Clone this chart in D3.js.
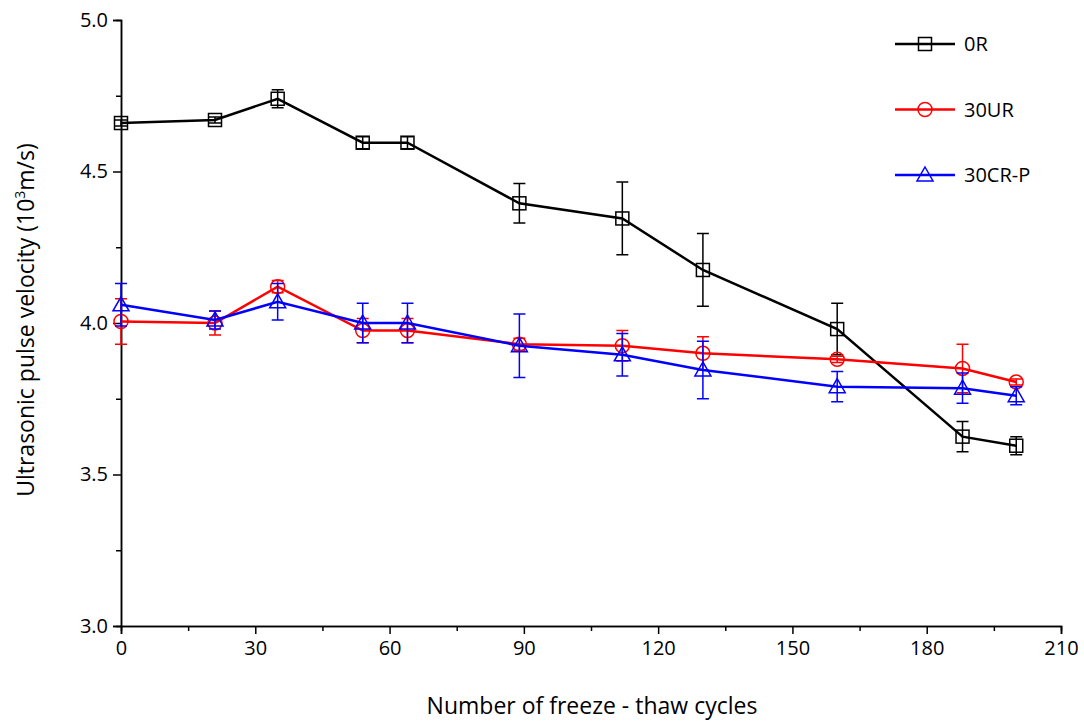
<!DOCTYPE html>
<html><head><meta charset="utf-8">
<script src="https://cdn.jsdelivr.net/npm/d3@7"></script>
<style>body{margin:0;background:#fff}text{font-family:"Open Sans",Arial,sans-serif}</style>
</head><body><div></div>
<script>
var cycles = [0, 21, 35, 54, 64, 89, 112, 130, 160, 188, 200];
var v0R = [4.66, 4.67, 4.74, 4.595, 4.595, 4.395, 4.345, 4.175, 3.98, 3.625, 3.595];
var e0R = [0.01, 0.01, 0.03, 0.02, 0.02, 0.065, 0.12, 0.12, 0.085, 0.05, 0.03];
var v30UR = [4.005, 4.0, 4.12, 3.975, 3.975, 3.93, 3.925, 3.9, 3.88, 3.85, 3.805];
var e30UR = [0.075, 0.04, 0.02, 0.04, 0.04, 0.02, 0.05, 0.055, 0.01, 0.08, 0.01];
var v30CR = [4.06, 4.01, 4.07, 4.0, 4.0, 3.925, 3.895, 3.845, 3.79, 3.785, 3.76];
var e30CR = [0.07, 0.03, 0.06, 0.065, 0.065, 0.105, 0.07, 0.095, 0.05, 0.05, 0.03];
var seriesNames = ['0R', '30UR', '30CR-P'];
var xTicks = [0, 30, 60, 90, 120, 150, 180, 210];
var yTicks = [3.0, 3.5, 4.0, 4.5, 5.0];

var width = 1084, height = 723;
var svg = d3.select('div').append('svg').attr('width', width).attr('height', height);
var x = d3.scaleLinear().domain([0, 210]).range([121, 1061]);
var y = d3.scaleLinear().domain([3, 5]).range([626, 20]);

svg.append('g').attr('transform', 'translate(0,626)')
  .call(d3.axisBottom(x).tickValues(xTicks).tickSize(8).tickPadding(7));
svg.append('g').attr('transform', 'translate(0,626)')
  .call(d3.axisBottom(x).tickValues(d3.range(15, 210, 30)).tickSize(5).tickFormat(''));
svg.append('g').attr('transform', 'translate(121,0)')
  .call(d3.axisLeft(y).tickValues(yTicks).tickSize(8).tickPadding(5).tickFormat(d3.format('.1f')));
svg.append('g').attr('transform', 'translate(121,0)')
  .call(d3.axisLeft(y).tickValues([3.25, 3.75, 4.25, 4.75]).tickSize(5).tickFormat(''));
svg.selectAll('.domain, .tick line').attr('stroke', '#000').attr('stroke-width', 1.5);
svg.selectAll('.tick text').attr('font-size', 20).attr('fill', '#000').style('font-family', '"Open Sans",Arial,sans-serif');

svg.append('text').attr('x', 592).attr('y', 714).attr('text-anchor', 'middle').attr('font-size', 23).text('Number of freeze - thaw cycles');
var yl = svg.append('text').attr('transform', 'translate(34,320) rotate(-90)').attr('text-anchor', 'middle').attr('font-size', 23);
yl.append('tspan').text('Ultrasonic pulse velocity (10');
yl.append('tspan').attr('font-size', 14).attr('dy', -9).text('3');
yl.append('tspan').attr('dy', 9).text('m/s)');

var series = [
  {name: seriesNames[0], v: v0R, e: e0R, color: '#000', shape: 'square'},
  {name: seriesNames[1], v: v30UR, e: e30UR, color: '#f00', shape: 'circle'},
  {name: seriesNames[2], v: v30CR, e: e30CR, color: '#00f', shape: 'triangle'}
];

function marker(g, shape, color, cx, cy) {
  if (shape === 'square') g.append('rect').attr('x', cx - 6.5).attr('y', cy - 6.5).attr('width', 13).attr('height', 13);
  else if (shape === 'circle') g.append('circle').attr('cx', cx).attr('cy', cy).attr('r', 7);
  else g.append('path').attr('d', 'M' + cx + ',' + (cy - 8) + 'L' + (cx + 8) + ',' + (cy + 6) + 'L' + (cx - 8) + ',' + (cy + 6) + 'Z');
  g.selectAll('*').attr('fill', 'none').attr('stroke', color).attr('stroke-width', 1.5);
}

var line = d3.line().x(function (d) { return x(d[0]); }).y(function (d) { return y(d[1]); });
series.forEach(function (s) {
  var pts = cycles.map(function (c, i) { return [c, s.v[i], s.e[i]]; });
  var g = svg.append('g');
  pts.forEach(function (p) {
    var px = x(p[0]);
    g.append('path').attr('d', 'M' + px + ',' + y(p[1] - p[2]) + 'V' + y(p[1] + p[2]) +
      'M' + (px - 6) + ',' + y(p[1] - p[2]) + 'h12M' + (px - 6) + ',' + y(p[1] + p[2]) + 'h12')
      .attr('stroke', s.color).attr('stroke-width', 1.5).attr('fill', 'none');
  });
  g.append('path').datum(pts).attr('d', line).attr('fill', 'none').attr('stroke', s.color).attr('stroke-width', 2.5);
  pts.forEach(function (p) { marker(g.append('g'), s.shape, s.color, x(p[0]), y(p[1])); });
});

series.forEach(function (s, i) {
  var ly = 44 + i * 65.5;
  var g = svg.append('g');
  g.append('line').attr('x1', 895).attr('x2', 955).attr('y1', ly).attr('y2', ly).attr('stroke', s.color).attr('stroke-width', 2.5);
  marker(g.append('g'), s.shape, s.color, 925, ly);
  svg.append('text').attr('x', 964).attr('y', ly + 7).attr('font-size', 20).text(s.name);
});
</script></body></html>
